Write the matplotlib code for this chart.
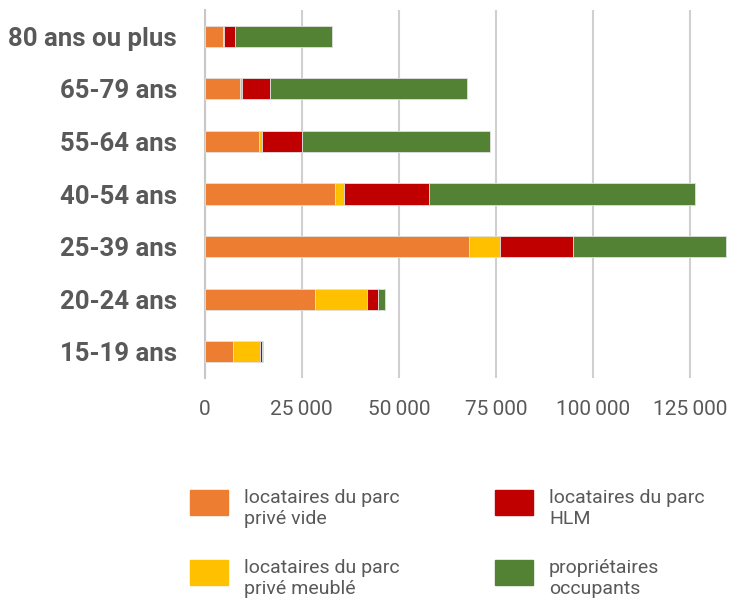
import matplotlib.pyplot as plt
from matplotlib.patches import Rectangle
from matplotlib.ticker import FuncFormatter
import numpy as np

# tranches d'age (de haut en bas dans le graphique)
ages = ["80 ans ou plus", "65-79 ans", "55-64 ans", "40-54 ans",
        "25-39 ans", "20-24 ans", "15-19 ans"]

prive_vide = [4800, 9100, 13900, 33600, 67950, 28450, 7300]
prive_meuble = [200, 550, 900, 2250, 8000, 13450, 6850]
hlm = [2900, 7200, 10250, 21900, 19000, 2700, 550]
proprietaires = [24800, 50750, 48500, 68400, 39300, 1950, 350]

series = [prive_vide, prive_meuble, hlm, proprietaires]
noms = ["locataires du parc\nprivé vide", "locataires du parc\nprivé meublé",
        "locataires du parc\nHLM", "propriétaires\noccupants"]
couleurs = ["#ED7D31", "#FFC000", "#C00000", "#548235"]

plt.rcParams['font.family'] = ['Roboto', 'DejaVu Sans']
gris = "#595959"

fig = plt.figure(figsize=(7.33, 5.99), dpi=100)
ax = fig.add_axes([204.7/733, 1-378/599, (729-204.7)/733, 368/599])

y = np.arange(len(ages))
gauche = np.zeros(len(ages))
for vals, nom, c in zip(series, noms, couleurs):
    ax.barh(y, vals, left=gauche, height=0.4, color=c, label=nom,
            edgecolor="#e0e0e0", linewidth=0.6, zorder=3)
    gauche = gauche + np.array(vals)

ax.set_ylim(len(ages)-0.5, -0.5)
ax.set_xlim(0, 135000)
ax.set_yticks(y)
ax.set_yticklabels(ages, fontsize=18.5, fontweight='bold', color=gris)
ax.set_xticks([0, 25000, 50000, 75000, 100000, 125000])
ax.xaxis.set_major_formatter(FuncFormatter(lambda v, p: f"{int(v):,}".replace(",", "\u2009")))
ax.tick_params(axis='x', labelsize=15, colors=gris, length=0, pad=16)
ax.tick_params(axis='y', length=0, pad=20)

ax.grid(axis='x', color="#d0d0d0", linewidth=1.5, zorder=0)
for s in ["top", "right", "bottom"]:
    ax.spines[s].set_visible(False)
ax.spines["left"].set_color("#c8c8c8")
ax.spines["left"].set_linewidth(1.5)

# legende en deux colonnes, dessinee a la main
pos = [(190, 490), (190, 560), (495, 490), (495, 560)]
for (px, py), nom, c in zip(pos, noms, couleurs):
    fig.patches.append(Rectangle((px/733, 1-(py+25)/599), 38/733, 25/599,
                                 transform=fig.transFigure, color=c))
    fig.text((px+54)/733, 1-(py-1)/599, nom, fontsize=14, color=gris,
             va='top', ha='left', linespacing=1.25)

fig.savefig("out.png", dpi=100)
